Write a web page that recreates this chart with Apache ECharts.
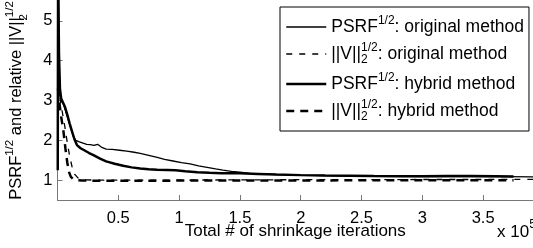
<!DOCTYPE html>
<html>
<head>
<meta charset="utf-8">
<script src="https://cdn.jsdelivr.net/npm/echarts@6/dist/echarts.min.js"></script>
<style>
html, body { margin: 0; padding: 0; background: #fff; }
#chart { width: 533px; height: 248px; }
</style>
</head>
<body>
<div id="chart"></div>
<script>
// x values in units of 10^5 shrinkage iterations
var psrfOrigX = [0.004, 0.01, 0.014, 0.02, 0.03, 0.05, 0.07, 0.09, 0.11, 0.13, 0.15, 0.18, 0.21, 0.24, 0.27, 0.30, 0.33, 0.36, 0.40, 0.45,
    0.51, 0.57, 0.63, 0.68, 0.75, 0.82, 0.88, 0.95, 1.02, 1.09, 1.16, 1.23, 1.30, 1.36, 1.43, 1.50, 1.58, 1.67, 1.80, 2.00,
    2.20, 2.50, 2.80, 3.10, 3.40, 3.70, 3.91];
var psrfOrigY = [7.0, 4.6, 3.86, 3.2, 3.0, 2.9, 2.7, 2.5, 2.3, 2.1, 2.0, 1.96, 1.93, 1.9, 1.89, 1.87, 1.9, 1.83, 1.78, 1.77,
    1.75, 1.73, 1.70, 1.67, 1.62, 1.57, 1.52, 1.48, 1.44, 1.41, 1.36, 1.32, 1.28, 1.25, 1.22, 1.20, 1.17, 1.155, 1.14, 1.125,
    1.115, 1.105, 1.095, 1.09, 1.09, 1.085, 1.08];

var normOrigX = [0.004, 0.02, 0.04, 0.06, 0.08, 0.10, 0.12, 0.14, 0.17, 0.21, 0.30, 0.60, 1.00, 1.50, 2.00, 2.50, 3.00, 3.50, 3.91];
var normOrigY = [3.4, 3.05, 2.7, 2.35, 1.95, 1.6, 1.33, 1.15, 1.05, 1.01, 1.0, 1.0, 1.0, 1.005, 1.01, 1.01, 1.015, 1.015, 1.02];

var psrfHybX = [0.002, 0.005, 0.012, 0.02, 0.03, 0.045, 0.06, 0.08, 0.10, 0.12, 0.14, 0.16, 0.19, 0.22, 0.26, 0.30, 0.35, 0.40, 0.47, 0.54,
    0.61, 0.68, 0.75, 0.82, 0.90, 0.97, 1.05, 1.15, 1.25, 1.35, 1.50, 1.65, 1.80, 2.00, 2.20, 2.40, 2.60, 2.80, 3.00, 3.20,
    3.40, 3.60, 3.75];
var psrfHybY = [1.25, 6.5, 4.2, 3.3, 3.05, 2.95, 2.85, 2.65, 2.42, 2.22, 2.02, 1.88, 1.80, 1.75, 1.68, 1.62, 1.54, 1.47, 1.41, 1.36,
    1.32, 1.29, 1.27, 1.26, 1.255, 1.245, 1.22, 1.20, 1.185, 1.175, 1.17, 1.155, 1.14, 1.125, 1.115, 1.11, 1.10, 1.095, 1.095, 1.10,
    1.10, 1.095, 1.09];

var normHybX = [0.004, 0.015, 0.03, 0.05, 0.065, 0.08, 0.095, 0.11, 0.13, 0.16, 0.20, 0.30, 0.50, 0.80, 1.20, 1.60, 2.00, 2.50, 3.00, 3.50, 3.75];
var normHybY = [3.3, 2.95, 2.6, 2.2, 1.8, 1.45, 1.2, 1.08, 1.02, 1.0, 0.99, 0.985, 0.985, 0.985, 0.99, 0.99, 0.99, 0.995, 0.995, 0.995, 0.995];

var xTicks = [0.5, 1, 1.5, 2, 2.5, 3, 3.5];
var yTicks = [1, 2, 3, 4, 5];

var seriesNames = ['psrfOrig', 'normOrig', 'psrfHyb', 'normHyb'];
var legendText = {
    psrfOrig: '{a|PSRF}{sup|1/2}{a|: original method}',
    normOrig: '{a|||V||}{sub|2}{sup|1/2}{a|: original method}',
    psrfHyb: '{a|PSRF}{sup|1/2}{a|: hybrid method}',
    normHyb: '{a|||V||}{sub|2}{sup|1/2}{a|: hybrid method}'
};

var font = "'Liberation Sans', Arial, sans-serif";

function pairs(xs, ys) {
    var out = [];
    for (var i = 0; i < xs.length; i++) out.push([xs[i], ys[i]]);
    return out;
}

function richStyle(big, small, lh) {
    return {
        a: { fontFamily: font, fontSize: big, lineHeight: lh, color: '#000' },
        sup: { fontFamily: font, fontSize: small, lineHeight: lh, verticalAlign: 'top', color: '#000' },
        sub: { fontFamily: font, fontSize: small, lineHeight: lh, verticalAlign: 'bottom', width: 0, color: '#000' }
    };
}

var lineStyles = {
    psrfOrig: { color: '#000', width: 1.3, type: 'solid' },
    normOrig: { color: '#000', width: 1.3, type: [6, 7] },
    psrfHyb: { color: '#000', width: 2.5, type: 'solid' },
    normHyb: { color: '#000', width: 2.5, type: [8, 6] }
};

var myChart = echarts.init(document.getElementById('chart'));

var option = {
    animation: false,
    backgroundColor: '#fff',
    grid: { left: 57.5, right: 0, top: 1, bottom: 48, containLabel: false, outerBoundsMode: 'none' },
    xAxis: {
        type: 'value',
        min: 0,
        max: 3.91,
        name: 'Total # of shrinkage iterations',
        nameLocation: 'middle',
        nameGap: 23,
        nameMoveOverlap: false,
        nameTextStyle: { fontFamily: font, fontSize: 17, color: '#000' },
        axisLine: { lineStyle: { color: '#777', width: 1 } },
        axisTick: { inside: true, length: 5, customValues: xTicks, lineStyle: { color: '#777' } },
        axisLabel: { customValues: xTicks, fontFamily: font, fontSize: 16.5, color: '#000', margin: 10 },
        splitLine: { show: false }
    },
    yAxis: {
        type: 'value',
        min: 0.5,
        max: 5.5,
        name: '{a|PSRF}{sup|1/2}{a| and relative ||V||}{sub|2}{sup|1/2}',
        nameLocation: 'middle',
        nameGap: 28,
        nameMoveOverlap: false,
        nameTextStyle: { rich: richStyle(16.5, 11.5, 26) },
        axisLine: { show: true, lineStyle: { color: '#777', width: 1 } },
        axisTick: { show: true, inside: true, length: 5, customValues: yTicks, lineStyle: { color: '#777' } },
        axisLabel: { customValues: yTicks, fontFamily: font, fontSize: 16.5, color: '#000', margin: 5 },
        splitLine: { show: false }
    },
    legend: {
        data: seriesNames.map(function (n) {
            return { name: n, lineStyle: lineStyles[n], itemStyle: { opacity: 0 } };
        }),
        orient: 'vertical',
        left: 280,
        top: 7,
        padding: [8, 5, 8, 5],
        itemGap: 6,
        itemWidth: 40,
        itemHeight: 14,
        borderColor: '#000',
        borderWidth: 1,
        backgroundColor: '#fff',
        selectedMode: false,
        formatter: function (n) { return legendText[n]; },
        textStyle: { fontFamily: font, fontSize: 17.5, color: '#000', rich: richStyle(17.5, 12, 24) }
    },
    graphic: [{
        type: 'text',
        left: 497,
        top: 219,
        style: { text: '{a|x 10}{sup|5}', rich: richStyle(17, 12, 26) }
    }],
    series: seriesNames.map(function (n) {
        var xs = { psrfOrig: psrfOrigX, normOrig: normOrigX, psrfHyb: psrfHybX, normHyb: normHybX }[n];
        var ys = { psrfOrig: psrfOrigY, normOrig: normOrigY, psrfHyb: psrfHybY, normHyb: normHybY }[n];
        return {
            name: n,
            type: 'line',
            symbol: 'none',
            data: pairs(xs, ys),
            lineStyle: lineStyles[n],
            itemStyle: { color: '#000' }
        };
    })
};
myChart.setOption(option);
</script>
</body>
</html>
